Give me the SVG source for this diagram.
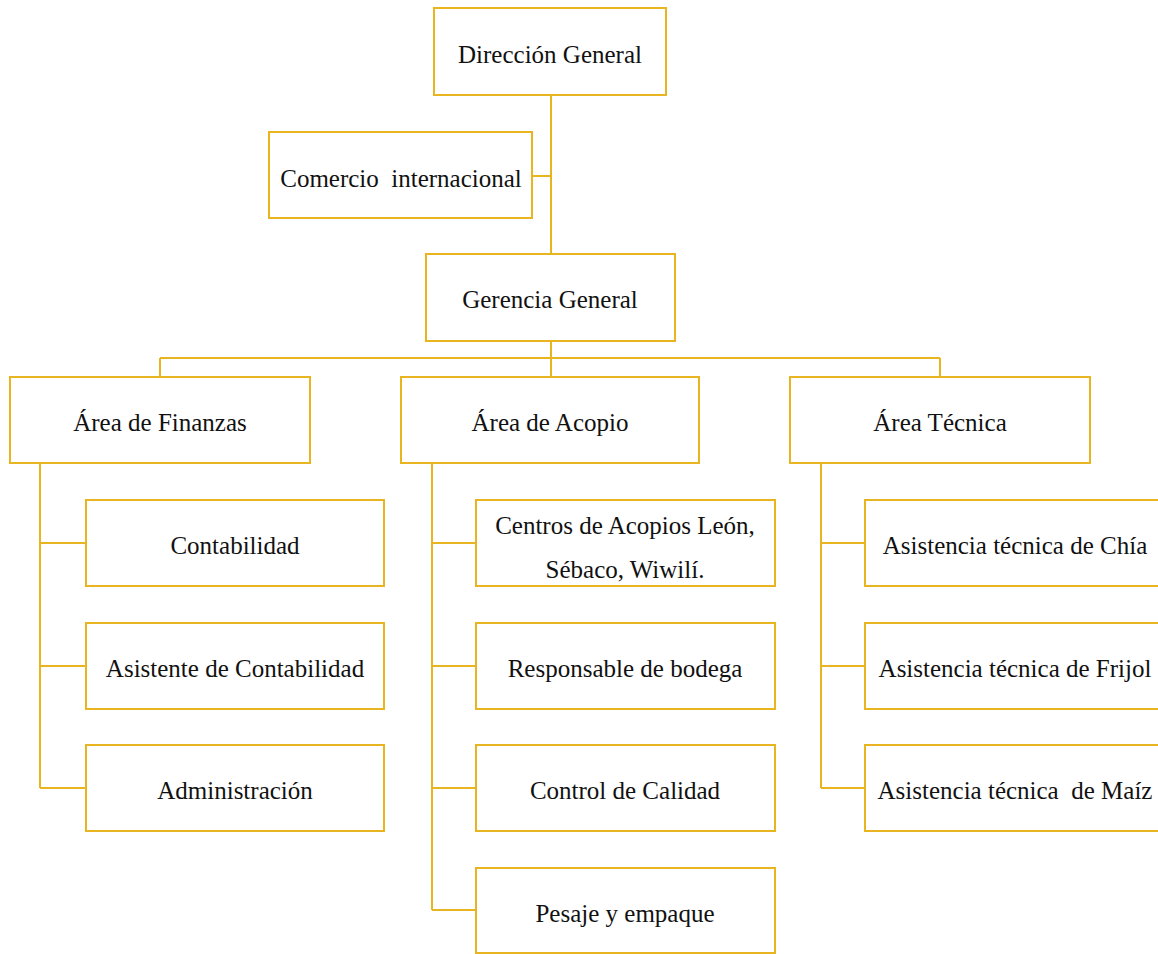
<svg xmlns="http://www.w3.org/2000/svg" width="1158" height="954" viewBox="0 0 1158 954">
<style>
.b{fill:#fff;stroke:#E8B420;stroke-width:2}
.c{fill:none;stroke:#E8B420;stroke-width:2}
text{font-family:'Liberation Serif','DejaVu Serif',serif;font-size:25px;fill:#111;text-anchor:middle;white-space:pre}
</style>
<rect width="1158" height="954" fill="#fff"/>
<g id="connectors">
<path class="c" d="M551 95V254M532 176H551M551 341V358M160 358H940M160 358V377M551 358V377M940 358V377"/>
<path class="c" d="M40 463V788M40 543H86M40 666H86M40 788H86"/>
<path class="c" d="M432 463V910M432 543H476M432 666H476M432 788H476M432 910H476"/>
<path class="c" d="M821 463V788M821 543H865M821 666H865M821 788H865"/>
</g>
<g id="direccion"><rect class="b" x="434" y="8" width="232" height="87"/><text x="550" y="63">Dirección General</text></g>
<g id="comercio"><rect class="b" x="269" y="132" width="263" height="86"/><text x="401" y="187">Comercio  internacional</text></g>
<g id="gerencia"><rect class="b" x="426" y="254" width="249" height="87"/><text x="550" y="308">Gerencia General</text></g>
<g id="finanzas"><rect class="b" x="10" y="377" width="300" height="86"/><text x="160" y="431">Área de Finanzas</text></g>
<g id="acopio"><rect class="b" x="401" y="377" width="298" height="86"/><text x="550" y="431">Área de Acopio</text></g>
<g id="tecnica"><rect class="b" x="790" y="377" width="300" height="86"/><text x="940" y="431">Área Técnica</text></g>
<g id="contabilidad"><rect class="b" x="86" y="500" width="298" height="86"/><text x="235" y="554">Contabilidad</text></g>
<g id="asistente"><rect class="b" x="86" y="623" width="298" height="86"/><text x="235" y="677">Asistente de Contabilidad</text></g>
<g id="administracion"><rect class="b" x="86" y="745" width="298" height="86"/><text x="235" y="799">Administración</text></g>
<g id="centros"><rect class="b" x="476" y="500" width="299" height="86"/><text x="625" y="534">Centros de Acopios León,</text><text x="625" y="578">Sébaco, Wiwilí.</text></g>
<g id="bodega"><rect class="b" x="476" y="623" width="299" height="86"/><text x="625" y="677">Responsable de bodega</text></g>
<g id="calidad"><rect class="b" x="476" y="745" width="299" height="86"/><text x="625" y="799">Control de Calidad</text></g>
<g id="pesaje"><rect class="b" x="476" y="868" width="299" height="85"/><text x="625" y="922">Pesaje y empaque</text></g>
<g id="chia"><rect class="b" x="865" y="500" width="300" height="86"/><text x="1015" y="554">Asistencia técnica de Chía</text></g>
<g id="frijol"><rect class="b" x="865" y="623" width="300" height="86"/><text x="1015" y="677">Asistencia técnica de Frijol</text></g>
<g id="maiz"><rect class="b" x="865" y="745" width="300" height="86"/><text x="1015" y="799">Asistencia técnica  de Maíz</text></g>
</svg>
